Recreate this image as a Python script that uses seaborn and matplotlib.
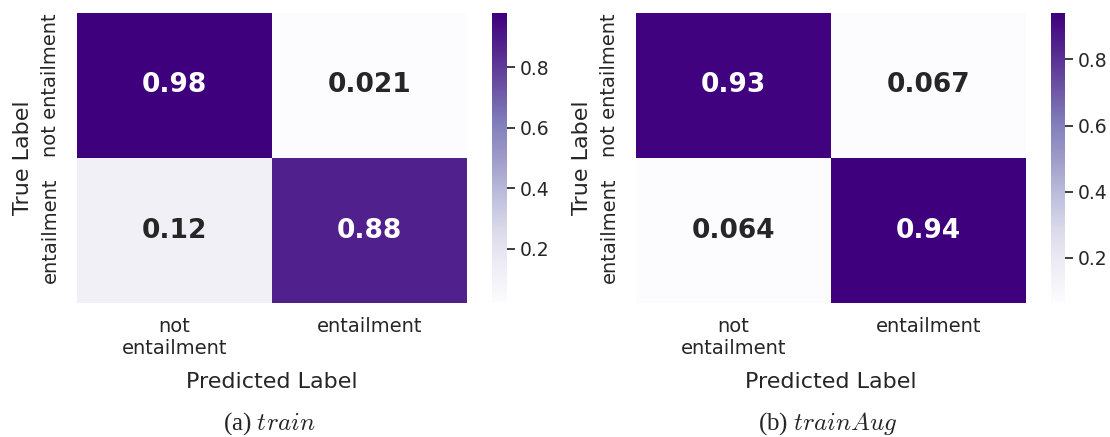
import numpy as np
import pandas as pd
import matplotlib
matplotlib.use("Agg")
import matplotlib.pyplot as plt
import seaborn as sns

# Normalised confusion matrices (rows = true label, cols = predicted label)
true_labels = ["not entailment", "entailment"]
pred_labels = ["not\nentailment", "entailment"]
train_cm = [[0.98, 0.021],
            [0.12, 0.88]]
train_aug_cm = [[0.93, 0.067],
                [0.064, 0.94]]
captions = ["(a) $train$", "(b) $trainAug$"]

sns.set_theme(style="darkgrid")
plt.rcParams["font.family"] = ["DejaVu Sans"]
plt.rcParams["mathtext.fontset"] = "cm"

W, H = 1110, 437
fig = plt.figure(figsize=(W / 100, H / 100), dpi=100)


def box(x0, y0, x1, y1):
    return [x0 / W, 1 - y1 / H, (x1 - x0) / W, (y1 - y0) / H]


panels = [
    (train_cm, box(77, 13, 467, 303), box(492, 13, 507, 303), captions[0]),
    (train_aug_cm, box(636, 13, 1026, 303), box(1051, 13, 1065, 303), captions[1]),
]

for cm, ax_box, cb_box, cap in panels:
    ax = fig.add_axes(ax_box)
    cax = fig.add_axes(cb_box)
    df = pd.DataFrame(cm, index=true_labels, columns=pred_labels)
    sns.heatmap(df, ax=ax, cbar_ax=cax, cmap="Purples", annot=True,
                annot_kws={"fontsize": 19, "fontweight": "bold"})
    ax.set_xlabel("Predicted Label", fontsize=16, labelpad=10)
    ax.set_ylabel("True Label", fontsize=16, labelpad=6)
    ax.tick_params(axis="x", labelsize=14, rotation=0, pad=4)
    ax.tick_params(axis="y", labelsize=14, pad=6)
    for t in ax.get_yticklabels():
        t.set_rotation(90)
        t.set_va("center")
    cax.tick_params(labelsize=13.5)
    cx = (ax_box[0] + ax_box[2] / 2) - 3 / W
    fig.text(cx, 1 - 424 / H, cap, ha="center", va="center",
             fontsize=18, family="Liberation Serif")

fig.savefig("out.png", dpi=100)
